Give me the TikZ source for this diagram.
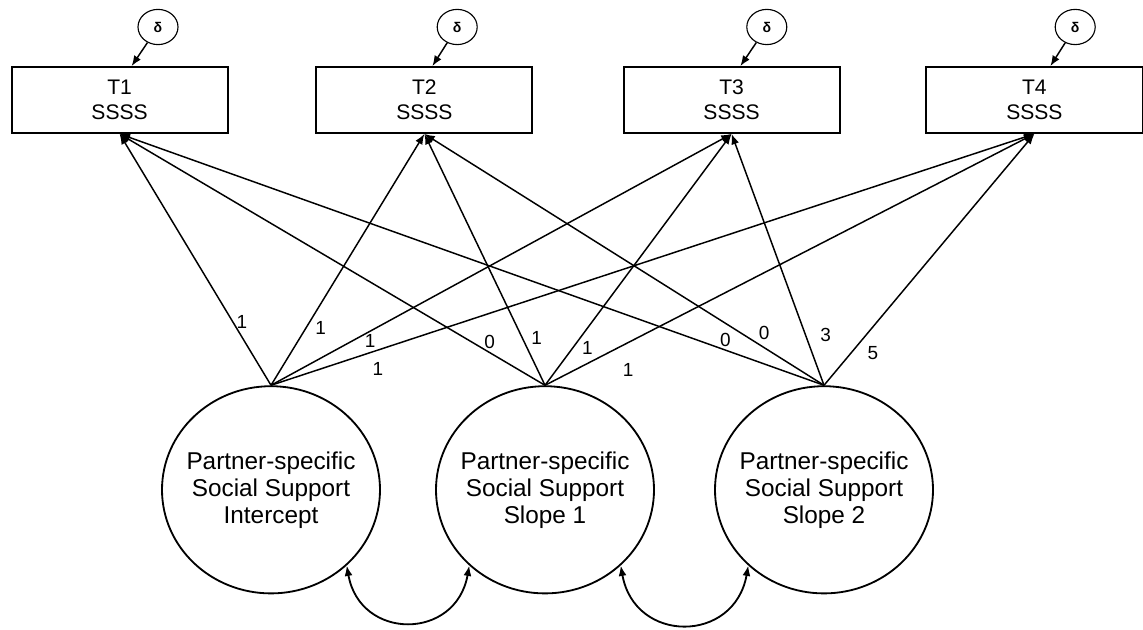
\documentclass[tikz,border=0pt]{standalone}
\usepackage{fontspec}
\setmainfont{Liberation Sans}
\usetikzlibrary{arrows.meta,shapes.geometric}
\tikzset{
	obsbox/.style={draw, line width=1.3pt, minimum width=5.4cm, minimum height=1.65cm, align=center, font=\fontsize{15}{17.7}\selectfont},
	latent/.style={draw, ellipse, line width=1.3pt, minimum width=5.45cm, minimum height=5.18cm, inner xsep=-0.25cm, inner ysep=0pt, align=center, font=\fontsize{17.3}{19.2}\selectfont},
	errnode/.style={draw, ellipse, line width=0.8pt, minimum width=1.0cm, minimum height=0.88cm, inner sep=0pt, font=\fontsize{10}{12}\selectfont\bfseries},
	load/.style={-{Latex[length=2.6mm,width=2mm]}, line width=1.05pt},
	cov/.style={{Latex[length=2.6mm,width=2mm]}-{Latex[length=2.6mm,width=2mm]}, line width=1.3pt},
	lbl/.style={font=\fontsize{13.5}{14}\selectfont, inner sep=2pt}
}

\begin{document}
\begin{tikzpicture}
			%%%%% START %%%%%
			\useasboundingbox (0, 0) rectangle (28.575, 15.725);
			
			% observed measures
			\node[obsbox] (t1) at (2.99, 13.225) {T1\\SSSS};
			\node[obsbox] (t2) at (10.61, 13.225) {T2\\SSSS};
			\node[obsbox] (t3) at (18.29, 13.225) {T3\\SSSS};
			\node[obsbox] (t4) at (25.86, 13.225) {T4\\SSSS};
			
			% residuals
			\node[errnode] (d1) at (3.95, 15.05) {δ};
			\node[errnode] (d2) at (11.43, 15.05) {δ};
			\node[errnode] (d3) at (19.17, 15.05) {δ};
			\node[errnode] (d4) at (26.88, 15.05) {δ};
			\draw[load] (d1) -- ([xshift=0.3cm]t1.north);
			\draw[load] (d2) -- ([xshift=0.2cm]t2.north);
			\draw[load] (d3) -- ([xshift=0.22cm]t3.north);
			\draw[load] (d4) -- ([xshift=0.4cm]t4.north);
			
			% growth factors
			\node[latent] (icpt) at (6.775, 3.48) {Partner-specific\\Social Support\\Intercept};
			\node[latent] (slp1) at (13.625, 3.48) {Partner-specific\\Social Support\\Slope 1};
			\node[latent] (slp2) at (20.6, 3.48) {Partner-specific\\Social Support\\Slope 2};
			
			% loadings
			\draw[load] (icpt.north) -- node[lbl, pos=.25, right] {1} (t1.south);
			\draw[load] (icpt.north) -- node[lbl, pos=.23, right=4pt] {1} (t2.south);
			\draw[load] (icpt.north) -- node[lbl, pos=.215, below] {1} (t3.south);
			\draw[load] (icpt.north) -- node[lbl, pos=.14, below=6pt] {1} (t4.south);
			
			\draw[load] (slp1.north) -- node[lbl, pos=.13, above] {0} (t1.south);
			\draw[load] (slp1.north) -- node[lbl, pos=.19, right=4pt] {1} (t2.south);
			\draw[load] (slp1.north) -- node[lbl, pos=.15, right=4pt] {1} (t3.south);
			\draw[load] (slp1.north) -- node[lbl, pos=.17, below=12pt] {1} (t4.south);
			
			\draw[load] (slp2.north) -- node[lbl, pos=.14, above] {0} (t1.south);
			\draw[load] (slp2.north) -- node[lbl, pos=.15, above=3pt] {0} (t2.south);
			\draw[load] (slp2.north) -- node[lbl, pos=.2, right=8pt] {3} (t3.south);
			\draw[load] (slp2.north) -- node[lbl, pos=.13, right=9pt] {5} (t4.south);
			
			% covariances
			\draw[cov] (icpt.-45) to[out=-80, in=-100, looseness=1.6] (slp1.-135);
			\draw[cov] (slp1.-45) to[out=-80, in=-100, looseness=1.6] (slp2.-135);
			%%%%% END %%%%%
\end{tikzpicture}
\end{document}
